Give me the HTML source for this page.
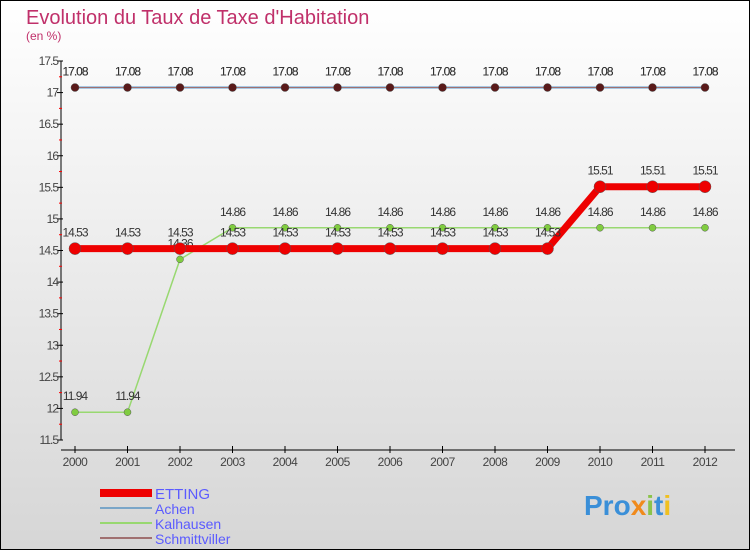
<!DOCTYPE html>
<html><head><meta charset="utf-8"><style>
body{margin:0;width:750px;height:550px;overflow:hidden;font-family:"Liberation Sans",sans-serif}
</style></head><body>
<svg width="750" height="550" xmlns="http://www.w3.org/2000/svg">
<defs><linearGradient id="bg" x1="0" y1="0" x2="0" y2="1"><stop offset="0" stop-color="#ffffff"/><stop offset="1" stop-color="#d6d6d6"/></linearGradient></defs>
<rect x="0.5" y="0.5" width="749" height="549" fill="url(#bg)" stroke="#000"/>
<text x="26" y="24" font-size="20" fill="#c0306a">Evolution du Taux de Taxe d'Habitation</text>
<text x="26" y="40" font-size="12" fill="#c0306a">(en %)</text>
<g id="axes"></g><g id="series"></g>
<g>
<rect x="100" y="489" width="52" height="8" fill="#ee0000"/>
<text x="155" y="499" font-size="15" fill="#5b5bff">ETTING</text>
<line x1="100" y1="508" x2="152" y2="508" stroke="#7aa6c8" stroke-width="2"/>
<text x="155" y="514" font-size="14" fill="#5b5bff">Achen</text>
<line x1="100" y1="523" x2="152" y2="523" stroke="#98d870" stroke-width="2"/>
<text x="155" y="529" font-size="14" fill="#5b5bff">Kalhausen</text>
<line x1="100" y1="538" x2="152" y2="538" stroke="#a07070" stroke-width="2"/>
<text x="155" y="544" font-size="14" fill="#5b5bff">Schmittviller</text>
</g>
<text x="584" y="515" font-size="28" font-weight="bold"><tspan fill="#3a8fd8">Pro</tspan><tspan fill="#f08a1c">x</tspan><tspan fill="#8bc34a">i</tspan><tspan fill="#3a8fd8">t</tspan><tspan fill="#f0c020">i</tspan></text>
</svg>
<script>
const years=[2000,2001,2002,2003,2004,2005,2006,2007,2008,2009,2010,2011,2012];
const etting=[14.53,14.53,14.53,14.53,14.53,14.53,14.53,14.53,14.53,14.53,15.51,15.51,15.51];
const achen=[17.08,17.08,17.08,17.08,17.08,17.08,17.08,17.08,17.08,17.08,17.08,17.08,17.08];
const kalhausen=[11.94,11.94,14.36,14.86,14.86,14.86,14.86,14.86,14.86,14.86,14.86,14.86,14.86];
const schmitt=[17.08,17.08,17.08,17.08,17.08,17.08,17.08,17.08,17.08,17.08,17.08,17.08,17.08];
const yTicks=[11.5,12,12.5,13,13.5,14,14.5,15,15.5,16,16.5,17,17.5];
const NS="http://www.w3.org/2000/svg";
const X=i=>75+i*52.5, Y=v=>440-(v-11.5)*(379/6);
function mk(t,a,p){const e=document.createElementNS(NS,t);for(const k in a)e.setAttribute(k,a[k]);p.appendChild(e);return e;}
const ax=document.getElementById('axes'), sr=document.getElementById('series');
let l=mk('line',{x1:61,y1:Y(17.5),x2:61,y2:440,stroke:'#000','stroke-width':1},ax);


l=mk('line',{x1:61,y1:450,x2:735,y2:450,stroke:'#000','stroke-width':1},ax);


yTicks.forEach((v,i)=>{mk('line',{x1:57,y1:Y(v),x2:63,y2:Y(v),stroke:'#000'},ax);
 if(i<yTicks.length-1)mk('line',{x1:59,y1:Y(v+0.25),x2:62,y2:Y(v+0.25),stroke:'#f00'},ax);
 const t=mk('text',{x:58,y:Y(v)+4,'font-size':12,fill:'#444','text-anchor':'end','letter-spacing':'-1'},ax);t.textContent=v;
 
 });
years.forEach((y,i)=>{mk('line',{x1:X(i),y1:446,x2:X(i),y2:453,stroke:'#000'},ax);
 const t=mk('text',{x:X(i),y:466,'font-size':12,fill:'#444','text-anchor':'middle','letter-spacing':'-0.5'},ax);t.textContent=y;
 
 });
function series(d,color,w,r,fill,name){
 const p=mk('polyline',{points:d.map((v,i)=>X(i)+','+Y(v)).join(' '),fill:'none',stroke:color,'stroke-width':w},sr);
 
 
 d.forEach((v,i)=>{const c=mk('circle',{cx:X(i),cy:Y(v),r:r,fill:fill,stroke:'#555','stroke-width':0.5},sr);
  
  
  const t=mk('text',{x:X(i),y:Y(v)-12,'font-size':12,fill:'#333','text-anchor':'middle','letter-spacing':'-1'},sr);t.textContent=v;
  
  });
}
series(kalhausen,'#98d870',1.5,3.5,'#80cc40','kalhausen');
series(achen,'#5a9ad0',2,0,'none','achen');
series(schmitt,'#a07070',1,4,'#5a1a1a','schmittviller');
series(etting,'#ee0000',7,6,'#ee0000','etting');
</script>
</body></html>
